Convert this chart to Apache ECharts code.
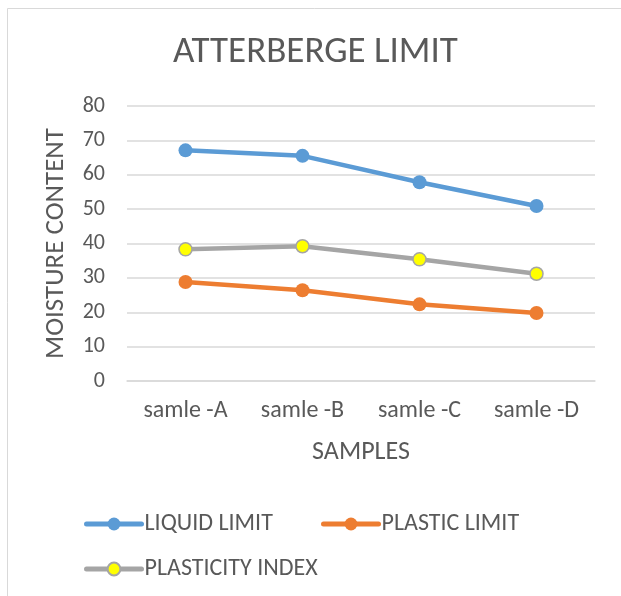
<!DOCTYPE html>
<html>
<head>
<meta charset="utf-8">
<script src="https://cdn.jsdelivr.net/npm/echarts@6/dist/echarts.min.js"></script>
<style>
html,body{margin:0;padding:0;background:#fff;}
#chart{width:621px;height:596px;}
</style>
</head>
<body>
<div id="chart"></div>
<script>
const categories = ['samle -A', 'samle -B', 'samle -C', 'samle -D'];
const liquidLimit = [67.1, 65.5, 57.8, 50.9];
const plasticLimit = [28.8, 26.4, 22.3, 19.8];
const plasticityIndex = [38.3, 39.2, 35.4, 31.2];
const yTicks = [0, 10, 20, 30, 40, 50, 60, 70, 80];

const FONT = "Carlito, 'Liberation Sans Narrow', 'Open Sans', sans-serif";
const TXT = '#595959';

const chart = echarts.init(document.getElementById('chart'), null, {renderer: 'canvas'});
const legendText = {color: TXT, fontSize: 24, fontFamily: FONT, padding: [0, 0, 0, -2]};
const legendBase = {itemWidth: 55, itemHeight: 16, itemGap: 0, textStyle: legendText,
  lineStyle: {width: 5, cap: 'round'}};
const option = {
  animation: false,
  backgroundColor: '#ffffff',
  title: {
    text: 'ATTERBERGE LIMIT',
    left: 168,
    top: 29,
    textStyle: {color: TXT, fontSize: 37, fontWeight: 'normal', fontFamily: FONT}
  },
  graphic: [{
    type: 'rect',
    shape: {x: 7.5, y: 8.5, width: 700, height: 700},
    style: {fill: 'none', stroke: '#d9d9d9', lineWidth: 1},
    silent: true
  }],
  grid: {left: 127, right: 26, top: 106, bottom: 215},
  legend: [
    Object.assign({data: ['LIQUID LIMIT'], left: 79, top: 507}, legendBase),
    Object.assign({data: ['PLASTIC LIMIT'], left: 316, top: 507}, legendBase),
    Object.assign({data: ['PLASTICITY INDEX'], left: 79, top: 552}, legendBase)
  ],
  xAxis: {
    type: 'category',
    data: categories,
    boundaryGap: true,
    name: 'SAMPLES',
    nameLocation: 'middle',
    nameGap: 58,
    nameTextStyle: {color: TXT, fontSize: 26, fontFamily: FONT},
    axisLine: {show: true, lineStyle: {color: '#d9d9d9', width: 1.5}},
    axisTick: {show: false},
    axisLabel: {color: TXT, fontSize: 24, fontFamily: FONT, margin: 18}
  },
  yAxis: {
    type: 'value',
    min: 0, max: 80, interval: 10,
    name: 'MOISTURE CONTENT',
    nameLocation: 'middle',
    nameGap: 57,
    nameTextStyle: {color: TXT, fontSize: 27, fontFamily: FONT},
    axisLine: {show: false},
    axisTick: {show: false},
    axisLabel: {color: TXT, fontSize: 22, fontFamily: FONT, margin: 22,
      formatter: v => yTicks.includes(v) ? String(v) : ''},
    splitLine: {lineStyle: {color: '#d9d9d9', width: 1.5}}
  },
  series: [
    {
      name: 'LIQUID LIMIT', type: 'line', data: liquidLimit,
      symbol: 'circle', symbolSize: 14,
      lineStyle: {color: '#5b9bd5', width: 4.5},
      itemStyle: {color: '#5b9bd5'}
    },
    {
      name: 'PLASTIC LIMIT', type: 'line', data: plasticLimit,
      symbol: 'circle', symbolSize: 14,
      lineStyle: {color: '#ed7d31', width: 4.5},
      itemStyle: {color: '#ed7d31'}
    },
    {
      name: 'PLASTICITY INDEX', type: 'line', data: plasticityIndex,
      symbol: 'circle', symbolSize: 13,
      lineStyle: {color: '#a5a5a5', width: 4.5},
      itemStyle: {color: '#ffff00', borderColor: '#a5a5a5', borderWidth: 1.5}
    }
  ]
};
chart.setOption(option);
</script>
</body>
</html>
